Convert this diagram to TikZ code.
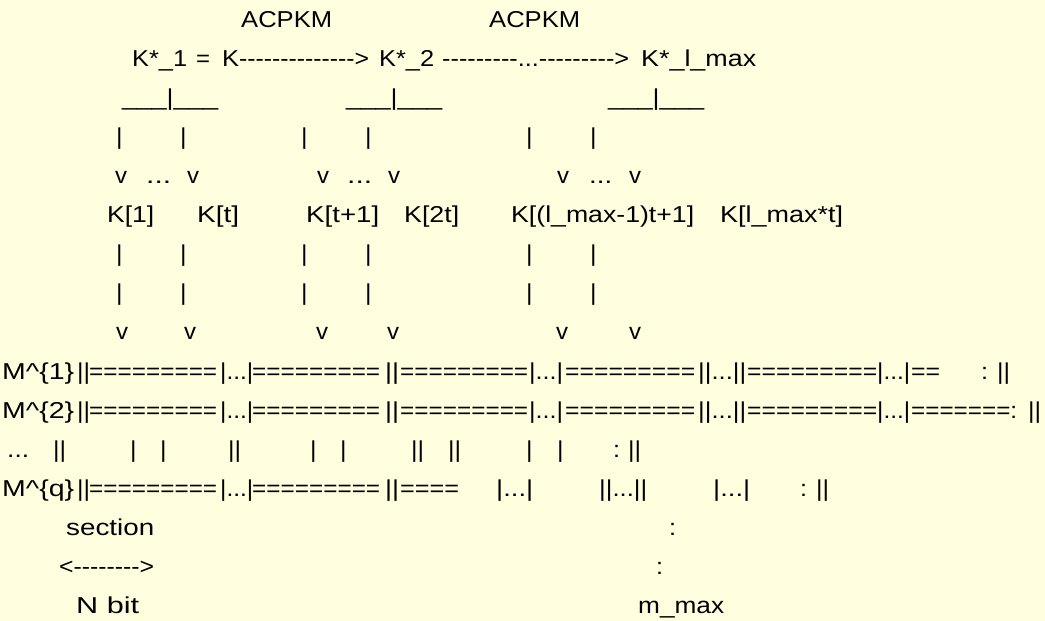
\documentclass[tikz,border=0pt]{standalone}
\usepackage{fontspec}
\setmainfont{Liberation Sans}[Ligatures=TeXOff]
\definecolor{paper}{RGB}{255,255,224}
\newcommand{\fit}[2]{\resizebox{#1pt}{\height}{#2}}
\newcommand{\dd}{...}

\begin{document}
\begin{tikzpicture}[x=1pt,y=-1pt,
    ascii/.style={anchor=base west, inner sep=0pt, font=\fontsize{23}{23}\selectfont},
  ]
  \fill[paper] (0,0) rectangle (1045,621);
  \useasboundingbox (0,0) rectangle (1045,621);

  % key chain
  \foreach \x [count=\i] in {241,489}
    \node (acpkm\i) [ascii] at (\x,27.5) {\fit{91}{ACPKM}};
  \foreach \x/\w/\t [count=\i] in {132/55/K*\_1, 196/14/=, 222/17/K,
      239/130/-------------->, 379/55/K*\_2, 442/187/---------\dd--------->,
      641/115/K*\_l\_max}
    \node (key\i) [ascii] at (\x,66.5) {\fit{\w}{\t}};
  \foreach \x [count=\i] in {122,346,608}
    \node (split\i) [ascii] at (\x,105.6) {\fit{96}{\_\_\_|\_\_\_}};

  % branches down to the key parts
  \foreach \y [count=\j] in {144.6,261.8,300.9}
    \foreach \x [count=\i] in {116,180,301,365,526,590}
      \node (bar\j-\i) [ascii] at (\x,\y) {\fit{6.5}{|}};
  \foreach \x/\w/\t [count=\i] in {115/12/v, 146/25/\dd, 187/12/v, 317/12/v,
      347/25/\dd, 388/12/v, 557/12/v, 589/23/\dd, 629/12/v}
    \node (down\i) [ascii] at (\x,183.7) {\fit{\w}{\t}};
  \foreach \x/\w/\t [count=\i] in {107/47/K[1], 197/42/K[t], 306/73/K[t+1],
      404/55/K[2t], 511/183/K[(l\_max-1)t+1], 720/123/K[l\_max*t]}
    \node (part\i) [ascii] at (\x,222.8) {\fit{\w}{\t}};
  \foreach \x [count=\i] in {116,184,316,387,556,629}
    \node (in\i) [ascii] at (\x,339.9) {\fit{12}{v}};

  % messages
  \foreach \x/\w/\t [count=\i] in {2/72/M\textasciicircum\{1\}, 77/13/||,
      89/128/=========, 220/33/|\dd|, 252/128/=========, 385/14/||,
      400/128/=========, 529/34/|\dd|, 565/130/=========, 698/48/||\dd||,
      747/130/=========, 877/33/|\dd|, 911/29/==, 981/7/:, 997/13/||}
    \node (msga\i) [ascii] at (\x,379) {\fit{\w}{\t}};
  \foreach \x/\w/\t [count=\i] in {2/72/M\textasciicircum\{2\}, 77/13/||,
      89/128/=========, 220/33/|\dd|, 252/128/=========, 385/14/||,
      400/128/=========, 529/34/|\dd|, 565/130/=========, 698/48/||\dd||,
      747/130/=========, 877/33/|\dd|, 911/106/=======:, 1028/13/||}
    \node (msgb\i) [ascii] at (\x,418) {\fit{\w}{\t}};
  \foreach \x/\w/\t [count=\i] in {7/22/\dd, 53/13/||, 130/6.5/|, 160/6.5/|,
      228/13/||, 310/6.5/|, 340/6.5/|, 411/13/||, 448/13/||, 526/6.5/|,
      557/6.5/|, 613/7/:, 628/13/||}
    \node (msgc\i) [ascii] at (\x,457) {\fit{\w}{\t}};
  \foreach \x/\w/\t [count=\i] in {2/72/M\textasciicircum\{q\}, 77/13/||,
      89/128/=========, 220/33/|\dd|, 252/128/=========, 385/14/||,
      400/59/====, 496/37/|\dd|, 599/48/||\dd||, 713/37/|\dd|, 800/7/:,
      816/13/||}
    \node (msgq\i) [ascii] at (\x,496.1) {\fit{\w}{\t}};

  % section width and length
  \node (sec)   [ascii] at (66,535.2)  {\fit{88}{section}};
  \node (dotsa) [ascii] at (669,535.2) {\fit{7}{:}};
  \node (span)  [ascii] at (59,574.2)  {\fit{95}{<-------->}};
  \node (dotsb) [ascii] at (656,574.2) {\fit{7}{:}};
  \node (nbit)  [ascii] at (76,613.2)  {\fit{63}{N bit}};
  \node (mmax)  [ascii] at (638,613.2) {\fit{86}{m\_max}};
\end{tikzpicture}
\end{document}
